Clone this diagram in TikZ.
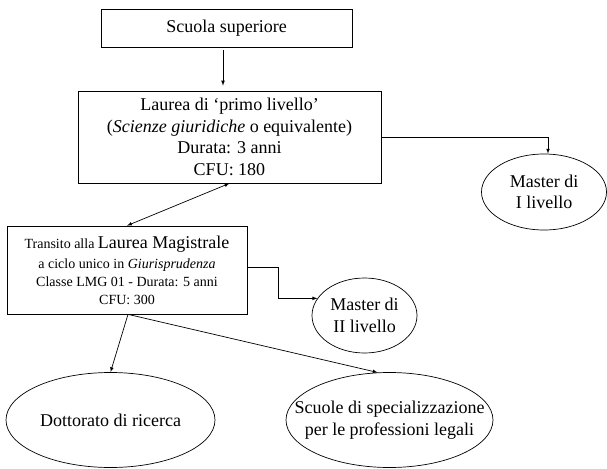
\documentclass[tikz,border=0pt]{standalone}
\usepackage{fontspec}
\setmainfont{Liberation Serif}
\usetikzlibrary{positioning,arrows,calc,shapes.geometric}
\tikzset{box/.style={draw,rectangle,inner sep=0pt,align=center,font=\fontsize{18}{21.5}\selectfont},
    oval/.style={draw,ellipse,inner sep=-4pt,align=center,font=\fontsize{18}{21.5}\selectfont}
}

\begin{document}
\begin{tikzpicture}[x=1pt,y=-1pt,>=latex,line width=0.7pt]
	\useasboundingbox (0,0) rectangle (607,468);
	\node[box,minimum width=251pt,minimum height=38pt] (SS) at (226.5,28) {Scuola superiore};
	\node[box,minimum width=303pt,minimum height=92pt] (L1) at (229.5,137)
		{Laurea di ‘primo livello’\\(\emph{Scienze giuridiche} o equivalente)\\Durata: 3 anni\\CFU: 180};
	\node[oval,minimum width=125pt,minimum height=76pt] (M1) at (544,192) {Master di\\I livello};
	\node[box,minimum width=240pt,minimum height=88pt,font=\fontsize{14}{18}\selectfont] (LM) at (127,270)
		{{\fontsize{14}{18}\selectfont Transito alla} {\fontsize{18}{18}\selectfont Laurea Magistrale}\\[2pt]
		a ciclo unico in \emph{Giurisprudenza}\\Classe LMG 01 - Durata: 5 anni\\CFU: 300};
	\node[oval,minimum width=105pt,minimum height=75pt] (M2) at (364.5,315.5) {Master di\\II livello};
	\node[oval,minimum width=209pt,minimum height=95pt] (DR) at (110.5,420) {Dottorato di ricerca};
	\node[oval,minimum width=207pt,minimum height=95pt,inner xsep=-30pt,inner ysep=-10pt] (SP) at (389.5,420)
		{Scuole di specializzazione\\per le professioni legali};
	\draw [->,shorten <=3pt,shorten >=5pt] ([xshift=-3.5pt]SS.south) -- ([xshift=-3.5pt]SS.south |- L1.north);
	\draw [->] (L1.east) -| ([xshift=4pt]M1.north);
	\draw [<->] (L1.south) -- (LM.north);
	\draw [->] ([yshift=3pt]LM.east) -- ++(31,0) |- (M2.160);
	\draw [->] ([xshift=1pt]LM.south) -- (DR.north);
	\draw [->] ([xshift=1pt]LM.south) -- (SP.104);
\end{tikzpicture}
\end{document}
